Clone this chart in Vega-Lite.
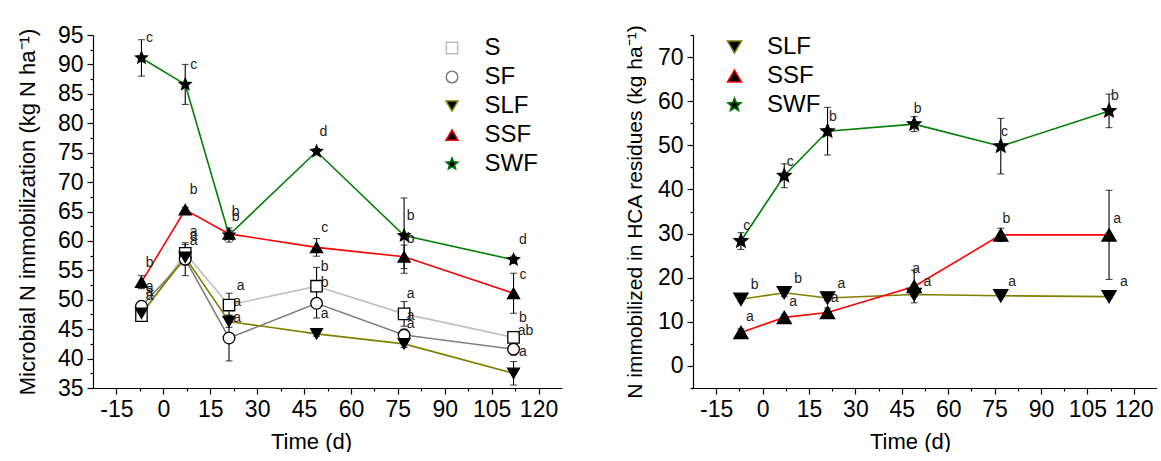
{
  "$schema": "https://vega.github.io/schema/vega-lite/v6.json",
  "background": "white",
  "padding": {"left": 16, "top": 24, "right": 0, "bottom": 0},
  "config": {
    "font": "Liberation Sans",
    "view": {"stroke": null},
    "axis": {"grid": false, "domainColor": "#000", "tickColor": "#000", "labelColor": "#000", "titleColor": "#000", "labelFontSize": 23, "titleFontSize": 22, "titleFontWeight": "normal", "labelFont": "Liberation Sans", "titleFont": "Liberation Sans", "labelPadding": 4, "domainWidth": 1.2, "tickWidth": 1.2, "labelOverlap": false, "labelFlush": false}
  },
  "datasets": {
    "a": [
      {"series": "S", "t": -7, "v": 47.3, "sd": 0.8},
      {"series": "S", "t": 7, "v": 57.9, "sd": 1.5},
      {"series": "S", "t": 21, "v": 49.1, "sd": 2.0},
      {"series": "S", "t": 49, "v": 52.3, "sd": 3.2},
      {"series": "S", "t": 77, "v": 47.6, "sd": 2.1},
      {"series": "S", "t": 112, "v": 43.6, "sd": 0.5},
      {"series": "SF", "t": -7, "v": 48.9, "sd": 0.6},
      {"series": "SF", "t": 7, "v": 56.9, "sd": 2.8},
      {"series": "SF", "t": 21, "v": 43.5, "sd": 3.9},
      {"series": "SF", "t": 49, "v": 49.4, "sd": 2.5},
      {"series": "SF", "t": 77, "v": 44.0, "sd": 1.0},
      {"series": "SF", "t": 112, "v": 41.6, "sd": 1.0},
      {"series": "SLF", "t": -7, "v": 47.7, "sd": 1.2},
      {"series": "SLF", "t": 7, "v": 57.2, "sd": 1.3},
      {"series": "SLF", "t": 21, "v": 46.3, "sd": 1.0},
      {"series": "SLF", "t": 49, "v": 44.2, "sd": 0.4},
      {"series": "SLF", "t": 77, "v": 42.5, "sd": 0.6},
      {"series": "SLF", "t": 112, "v": 37.5, "sd": 2.0},
      {"series": "SSF", "t": -7, "v": 53.0, "sd": 1.1},
      {"series": "SSF", "t": 7, "v": 65.3, "sd": 0.4},
      {"series": "SSF", "t": 21, "v": 61.2, "sd": 0.6},
      {"series": "SSF", "t": 49, "v": 58.9, "sd": 1.5},
      {"series": "SSF", "t": 77, "v": 57.3, "sd": 2.0},
      {"series": "SSF", "t": 112, "v": 51.1, "sd": 3.4},
      {"series": "SWF", "t": -7, "v": 91.1, "sd": 3.1},
      {"series": "SWF", "t": 7, "v": 86.6, "sd": 3.4},
      {"series": "SWF", "t": 21, "v": 61.0, "sd": 1.2},
      {"series": "SWF", "t": 49, "v": 75.2, "sd": 0.5},
      {"series": "SWF", "t": 77, "v": 60.9, "sd": 6.4},
      {"series": "SWF", "t": 112, "v": 56.8, "sd": 0.6}
    ],
    "alab": [
      {"t": -4.4, "v": 94.5, "lab": "c"},
      {"t": 9.7, "v": 89.9, "lab": "c"},
      {"t": 9.7, "v": 68.7, "lab": "b"},
      {"t": -4.4, "v": 56.2, "lab": "b"},
      {"t": -4.4, "v": 52.1, "lab": "a"},
      {"t": -4.4, "v": 51.4, "lab": "a"},
      {"t": -4.4, "v": 50.7, "lab": "a"},
      {"t": 9.7, "v": 61.5, "lab": "a"},
      {"t": 9.7, "v": 60.8, "lab": "a"},
      {"t": 9.7, "v": 60.0, "lab": "a"},
      {"t": 23.1, "v": 64.9, "lab": "b"},
      {"t": 23.1, "v": 64.1, "lab": "b"},
      {"t": 24.7, "v": 52.3, "lab": "a"},
      {"t": 23.6, "v": 49.7, "lab": "a"},
      {"t": 23.6, "v": 46.9, "lab": "a"},
      {"t": 51.2, "v": 78.5, "lab": "d"},
      {"t": 51.6, "v": 62.2, "lab": "c"},
      {"t": 51.6, "v": 55.6, "lab": "b"},
      {"t": 51.6, "v": 52.8, "lab": "b"},
      {"t": 51.6, "v": 47.6, "lab": "a"},
      {"t": 79.1, "v": 64.2, "lab": "b"},
      {"t": 79.1, "v": 60.3, "lab": "b"},
      {"t": 79.1, "v": 51.0, "lab": "a"},
      {"t": 79.1, "v": 47.2, "lab": "a"},
      {"t": 79.1, "v": 45.9, "lab": "a"},
      {"t": 115.0, "v": 60.2, "lab": "d"},
      {"t": 115.0, "v": 54.2, "lab": "c"},
      {"t": 115.0, "v": 46.9, "lab": "b"},
      {"t": 115.8, "v": 44.7, "lab": "ab"},
      {"t": 115.0, "v": 41.1, "lab": "a"}
    ],
    "b": [
      {"series": "SLF", "t": -7, "v": 15.1, "sd": 0.5},
      {"series": "SLF", "t": 7, "v": 16.6, "sd": 0.8},
      {"series": "SLF", "t": 21, "v": 15.4, "sd": 0.6},
      {"series": "SLF", "t": 49, "v": 16.2, "sd": 0.5},
      {"series": "SLF", "t": 77, "v": 15.9, "sd": 0.3},
      {"series": "SLF", "t": 112, "v": 15.7, "sd": 0.3},
      {"series": "SSF", "t": -7, "v": 7.6, "sd": 0.8},
      {"series": "SSF", "t": 7, "v": 11.0, "sd": 0.6},
      {"series": "SSF", "t": 21, "v": 12.1, "sd": 1.0},
      {"series": "SSF", "t": 49, "v": 18.0, "sd": 3.7},
      {"series": "SSF", "t": 77, "v": 29.7, "sd": 1.5},
      {"series": "SSF", "t": 112, "v": 29.7, "sd": 10.1},
      {"series": "SWF", "t": -7, "v": 28.3, "sd": 1.9},
      {"series": "SWF", "t": 7, "v": 43.1, "sd": 2.7},
      {"series": "SWF", "t": 21, "v": 53.2, "sd": 5.4},
      {"series": "SWF", "t": 49, "v": 54.8, "sd": 1.7},
      {"series": "SWF", "t": 77, "v": 49.8, "sd": 6.3},
      {"series": "SWF", "t": 112, "v": 57.8, "sd": 3.8}
    ],
    "blab": [
      {"t": -5.1, "v": 31.8, "lab": "c"},
      {"t": 8.9, "v": 46.3, "lab": "c"},
      {"t": 22.7, "v": 56.5, "lab": "b"},
      {"t": 50.1, "v": 58.2, "lab": "b"},
      {"t": 78.2, "v": 53.1, "lab": "c"},
      {"t": 113.9, "v": 61.1, "lab": "b"},
      {"t": -4.1, "v": 11.0, "lab": "a"},
      {"t": 9.9, "v": 14.4, "lab": "a"},
      {"t": 23.3, "v": 15.4, "lab": "a"},
      {"t": 49.6, "v": 21.9, "lab": "a"},
      {"t": 53.3, "v": 19.0, "lab": "a"},
      {"t": 78.8, "v": 33.3, "lab": "b"},
      {"t": 114.6, "v": 33.3, "lab": "a"},
      {"t": -2.6, "v": 18.3, "lab": "b"},
      {"t": 11.5, "v": 19.7, "lab": "b"},
      {"t": 25.5, "v": 18.5, "lab": "a"},
      {"t": 80.7, "v": 19.0, "lab": "a"},
      {"t": 116.8, "v": 19.0, "lab": "a"}
    ]
  },
  "spacing": 62,
  "resolve": {
    "scale": {"color": "independent", "shape": "independent", "fill": "independent", "size": "independent"},
    "legend": {"color": "independent", "shape": "independent", "fill": "independent"}
  },
  "hconcat": [
    {
      "width": 469,
      "height": 353,
      "encoding": {
        "x": {"field": "t", "type": "quantitative", "title": "Time (d)",
          "scale": {"domain": [-22.5, 127.5], "nice": false, "zero": false},
          "axis": {"values": [-15, -7.5, 0, 7.5, 15, 22.5, 30, 37.5, 45, 52.5, 60, 67.5, 75, 82.5, 90, 97.5, 105, 112.5, 120],
            "labelExpr": "datum.value % 15 === 0 ? '' + datum.value : ''",
            "tickSize": {"condition": {"test": "datum.value % 15 === 0", "value": 6}, "value": 3},
            "titlePadding": 10, "titleX": 218}},
        "y": {"field": "v", "type": "quantitative", "title": "Microbial N immobilization (kg N ha⁻¹)",
          "scale": {"domain": [35, 95], "nice": false, "zero": false},
          "axis": {"values": [35, 37.5, 40, 42.5, 45, 47.5, 50, 52.5, 55, 57.5, 60, 62.5, 65, 67.5, 70, 72.5, 75, 77.5, 80, 82.5, 85, 87.5, 90, 92.5, 95],
            "labelExpr": "datum.value % 5 === 0 ? '' + datum.value : ''",
            "tickSize": {"condition": {"test": "datum.value % 5 === 0", "value": 6}, "value": 3},
            "titlePadding": 18}}
      },
      "layer": [
        {
          "data": {"name": "a"},
          "mark": {"type": "line", "strokeWidth": 1.6},
          "encoding": {
            "color": {"field": "series", "type": "nominal",
              "scale": {"domain": ["S", "SF", "SLF", "SSF", "SWF"], "range": ["#c0c0c0", "#808080", "#808000", "#ff0000", "#008000"]},
              "legend": {"orient": "none", "legendX": 347, "legendY": 1, "title": null, "symbolSize": 100, "symbolStrokeWidth": 1.5, "labelFontSize": 24, "labelOffset": 20.5, "rowPadding": 5, "padding": 0, "labelColor": "#000", "labelFont": "Liberation Sans"}}
          }
        },
        {
          "data": {"name": "a"},
          "mark": {"type": "errorbar", "ticks": {"size": 7}, "color": "#000", "thickness": 1.1},
          "encoding": {"yError": {"field": "sd"}}
        },
        {
          "data": {"name": "a"},
          "mark": {"type": "point", "filled": true, "stroke": "#000", "strokeWidth": 1.3, "opacity": 1},
          "encoding": {
            "shape": {"field": "series", "type": "nominal",
              "scale": {"domain": ["S", "SF", "SLF", "SSF", "SWF"], "range": ["square", "circle", "triangle-down", "triangle-up", "M0,-1L0.265,-0.364L0.951,-0.309L0.428,0.139L0.588,0.809L0,0.45L-0.588,0.809L-0.428,0.139L-0.951,-0.309L-0.265,-0.364Z"]},
              "legend": {"orient": "none", "legendX": 347, "legendY": 1, "title": null, "symbolSize": 100, "symbolStrokeWidth": 1.5, "labelFontSize": 24, "labelOffset": 20.5, "rowPadding": 5, "padding": 0, "labelColor": "#000", "labelFont": "Liberation Sans"}},
            "fill": {"field": "series", "type": "nominal",
              "scale": {"domain": ["S", "SF", "SLF", "SSF", "SWF"], "range": ["#ffffff", "#ffffff", "#000000", "#000000", "#000000"]},
              "legend": {"orient": "none", "legendX": 347, "legendY": 1, "title": null, "symbolSize": 100, "symbolStrokeWidth": 1.5, "labelFontSize": 24, "labelOffset": 20.5, "rowPadding": 5, "padding": 0, "labelColor": "#000", "labelFont": "Liberation Sans"}},
            "size": {"field": "series", "type": "nominal",
              "scale": {"domain": ["S", "SF", "SLF", "SSF", "SWF"], "range": [130, 150, 200, 200, 320]},
              "legend": null}
          }
        },
        {
          "data": {"name": "alab"},
          "mark": {"type": "text", "fontSize": 14, "color": "#222", "font": "Liberation Sans"},
          "encoding": {"text": {"field": "lab"}}
        },
        {
          "data": {"values": [{}]},
          "mark": {"type": "text", "fontSize": 27, "color": "#000", "font": "Liberation Sans"},
          "encoding": {"x": {"datum": 44.8}, "y": {"datum": 89.7}, "text": {"value": "[A]"}}
        }
      ]
    },
    {
      "width": 464,
      "height": 353,
      "encoding": {
        "x": {"field": "t", "type": "quantitative", "title": "Time (d)",
          "scale": {"domain": [-22.5, 127.5], "nice": false, "zero": false},
          "axis": {"values": [-15, -7.5, 0, 7.5, 15, 22.5, 30, 37.5, 45, 52.5, 60, 67.5, 75, 82.5, 90, 97.5, 105, 112.5, 120],
            "labelExpr": "datum.value % 15 === 0 ? '' + datum.value : ''",
            "tickSize": {"condition": {"test": "datum.value % 15 === 0", "value": 6}, "value": 3},
            "titlePadding": 10, "titleX": 217}},
        "y": {"field": "v", "type": "quantitative", "title": "N immobilized in HCA residues (kg ha⁻¹)",
          "scale": {"domain": [-5, 75], "nice": false, "zero": false},
          "axis": {"values": [-5, 0, 5, 10, 15, 20, 25, 30, 35, 40, 45, 50, 55, 60, 65, 70, 75],
            "labelExpr": "datum.value % 10 === 0 ? '' + datum.value : ''",
            "tickSize": {"condition": {"test": "datum.value % 10 === 0", "value": 6}, "value": 3},
            "titleFontSize": 21, "titlePadding": 12}}
      },
      "layer": [
        {
          "data": {"name": "b"},
          "mark": {"type": "line", "strokeWidth": 1.6},
          "encoding": {
            "color": {"field": "series", "type": "nominal",
              "scale": {"domain": ["SLF", "SSF", "SWF"], "range": ["#808000", "#ff0000", "#008000"]},
              "legend": {"orient": "none", "legendX": 29.5, "legendY": 0, "title": null, "symbolSize": 100, "symbolStrokeWidth": 1.5, "symbolFillColor": "#000", "labelFontSize": 24, "labelOffset": 20.5, "rowPadding": 5, "padding": 0, "labelColor": "#000", "labelFont": "Liberation Sans"}}
          }
        },
        {
          "data": {"name": "b"},
          "mark": {"type": "errorbar", "ticks": {"size": 7}, "color": "#000", "thickness": 1.1},
          "encoding": {"yError": {"field": "sd"}}
        },
        {
          "data": {"name": "b"},
          "mark": {"type": "point", "filled": true, "stroke": "#000", "strokeWidth": 1.3, "fill": "#000", "opacity": 1},
          "encoding": {
            "shape": {"field": "series", "type": "nominal",
              "scale": {"domain": ["SLF", "SSF", "SWF"], "range": ["triangle-down", "triangle-up", "M0,-1L0.265,-0.364L0.951,-0.309L0.428,0.139L0.588,0.809L0,0.45L-0.588,0.809L-0.428,0.139L-0.951,-0.309L-0.265,-0.364Z"]},
              "legend": {"orient": "none", "legendX": 29.5, "legendY": 0, "title": null, "symbolSize": 100, "symbolStrokeWidth": 1.5, "symbolFillColor": "#000", "labelFontSize": 24, "labelOffset": 20.5, "rowPadding": 5, "padding": 0, "labelColor": "#000", "labelFont": "Liberation Sans"}},
            "size": {"field": "series", "type": "nominal",
              "scale": {"domain": ["SLF", "SSF", "SWF"], "range": [200, 200, 320]},
              "legend": null}
          }
        },
        {
          "data": {"name": "blab"},
          "mark": {"type": "text", "fontSize": 14, "color": "#222", "font": "Liberation Sans"},
          "encoding": {"text": {"field": "lab"}}
        },
        {
          "data": {"values": [{}]},
          "mark": {"type": "text", "fontSize": 27, "color": "#000", "font": "Liberation Sans"},
          "encoding": {"x": {"datum": 54.6}, "y": {"datum": 68.0}, "text": {"value": "[B]"}}
        }
      ]
    }
  ]
}
